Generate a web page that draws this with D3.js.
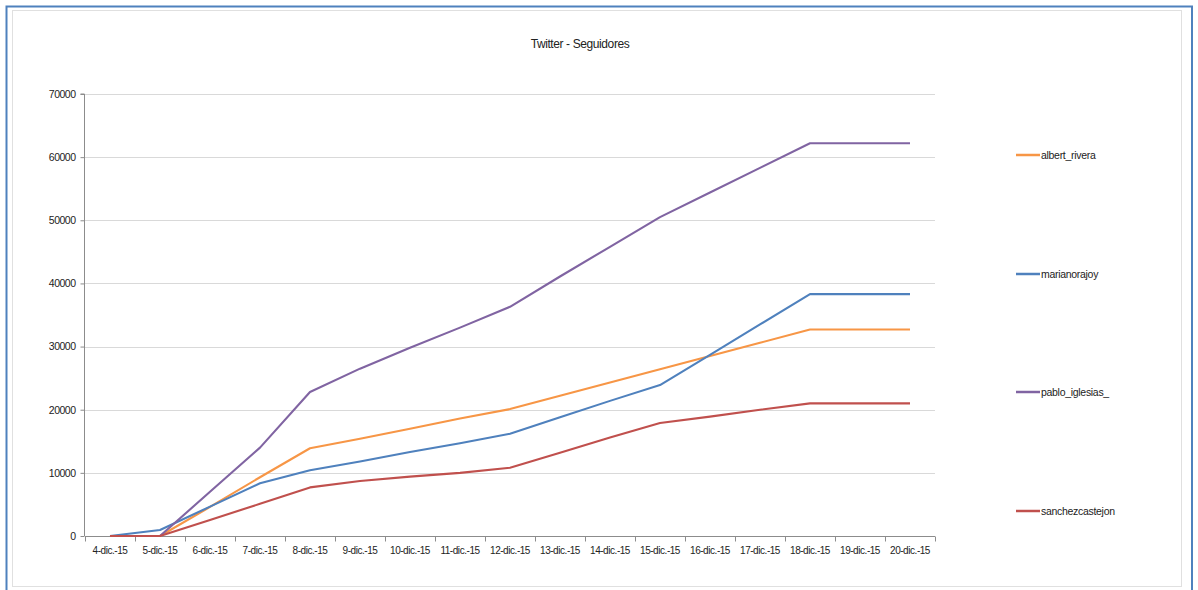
<!DOCTYPE html>
<html>
<head>
<meta charset="utf-8">
<script src="https://cdn.jsdelivr.net/npm/d3@7"></script>
<style>
  html, body { margin: 0; padding: 0; background: #fff; }
  svg { display: block; }
  text { font-family: "Liberation Sans Narrow", "Arial Narrow", "Liberation Sans", sans-serif; fill: #222; }
</style>
</head>
<body>
<svg id="chart" width="1198" height="590"></svg>
<script>
const title = "Twitter - Seguidores";
const categories = ["4-dic.-15","5-dic.-15","6-dic.-15","7-dic.-15","8-dic.-15","9-dic.-15","10-dic.-15","11-dic.-15","12-dic.-15","13-dic.-15","14-dic.-15","15-dic.-15","16-dic.-15","17-dic.-15","18-dic.-15","19-dic.-15","20-dic.-15"];
const seriesNames = ["albert_rivera", "marianorajoy", "pablo_iglesias_", "sanchezcastejon"];
const albert_rivera   = [0, 0, 4600, 9300, 13900, 15400, 17000, 18600, 20100, 22200, 24300, 26400, 28500, 30600, 32700, 32700, 32700];
const marianorajoy    = [0, 950, 4650, 8350, 10400, 11800, 13300, 14700, 16200, 18800, 21400, 23900, 28700, 33500, 38300, 38300, 38300];
const pablo_iglesias_ = [0, 0, 7000, 14000, 22800, 26500, 29800, 33000, 36300, 41100, 45800, 50500, 54400, 58300, 62200, 62200, 62200];
const sanchezcastejon = [0, 0, 2550, 5100, 7700, 8700, 9400, 10000, 10800, 13200, 15600, 17900, 18900, 20000, 21000, 21000, 21000];
const yTicks = [0, 10000, 20000, 30000, 40000, 50000, 60000, 70000];
const colors = ["#f79646", "#4f81bd", "#8064a2", "#c0504d"];

const seriesValues = [albert_rivera, marianorajoy, pablo_iglesias_, sanchezcastejon];

const svg = d3.select("#chart");

// outer frames
svg.append("rect").attr("x", 6.5).attr("y", 6.5).attr("width", 1185.5).attr("height", 600)
  .attr("fill", "#fff").attr("stroke", "#4f81bd").attr("stroke-width", 2);
svg.append("rect").attr("x", 12.5).attr("y", 10.5).attr("width", 1169).attr("height", 576)
  .attr("fill", "#fff").attr("stroke", "#e0e0e0").attr("stroke-width", 1);

const x = d3.scaleBand().domain(categories).range([85, 935]).padding(0);
const y = d3.scaleLinear().domain([0, 70000]).range([536, 94]);
const cx = d => x(d) + x.bandwidth() / 2;

// title
svg.append("text").attr("x", 580).attr("y", 48).attr("text-anchor", "middle")
  .attr("font-size", 12).attr("letter-spacing", -0.4).text(title);

// gridlines
svg.append("g").selectAll("line").data(yTicks.filter(t => t > 0)).join("line")
  .attr("x1", 85).attr("x2", 935)
  .attr("y1", d => Math.round(y(d)) + 0.5).attr("y2", d => Math.round(y(d)) + 0.5)
  .attr("stroke", "#d9d9d9").attr("stroke-width", 1);

// y axis
const yAxis = d3.axisLeft(y).tickValues(yTicks).tickSize(4).tickPadding(5).tickFormat(d3.format("d"));
const gy = svg.append("g").attr("transform", "translate(84.5,0)").call(yAxis);
gy.select(".domain").attr("stroke", "#8c8c8c").attr("d", `M-4,${y(70000)}H0V${y(0)}`);
gy.selectAll(".tick line").attr("stroke", "#8c8c8c");
gy.selectAll(".tick text").attr("font-size", 10.5).attr("fill", "#222").attr("letter-spacing", -0.5)
  .attr("font-family", "'Liberation Sans Narrow','Arial Narrow',sans-serif");

// x axis
const xAxis = d3.axisBottom(x).tickSize(0).tickPadding(10);
const gx = svg.append("g").attr("transform", "translate(0,536.5)").call(xAxis);
gx.select(".domain").attr("stroke", "#8c8c8c").attr("d", "M85,0H935");
gx.selectAll(".tick text").attr("font-size", 10).attr("fill", "#222").attr("letter-spacing", -0.45)
  .attr("font-family", "'Liberation Sans Narrow','Arial Narrow',sans-serif");
// tick marks between categories
const boundaries = categories.map(c => x(c)).concat([x.range()[1]]);
gx.append("g").selectAll("line").data(boundaries).join("line")
  .attr("x1", d => Math.round(d) + 0.5).attr("x2", d => Math.round(d) + 0.5)
  .attr("y1", 0).attr("y2", 5).attr("stroke", "#8c8c8c");

// lines
const line = d3.line().x((d, i) => cx(categories[i])).y(d => y(d));
svg.append("g").selectAll("path").data(seriesValues).join("path")
  .attr("d", d => line(d))
  .attr("fill", "none")
  .attr("stroke", (d, i) => colors[i])
  .attr("stroke-width", 2.1)
  .attr("stroke-linejoin", "round");

// legend
const legendY = [155, 274, 392, 511];
const lg = svg.append("g").selectAll("g").data(seriesNames).join("g")
  .attr("transform", (d, i) => `translate(1016,${legendY[i]})`);
lg.append("line").attr("x1", 0).attr("x2", 24).attr("y1", 0).attr("y2", 0)
  .attr("stroke", (d, i) => colors[i]).attr("stroke-width", 2.5);
lg.append("text").attr("x", 25).attr("y", 3.5).attr("font-size", 10.5).attr("letter-spacing", -0.3).text(d => d);
</script>
</body>
</html>
